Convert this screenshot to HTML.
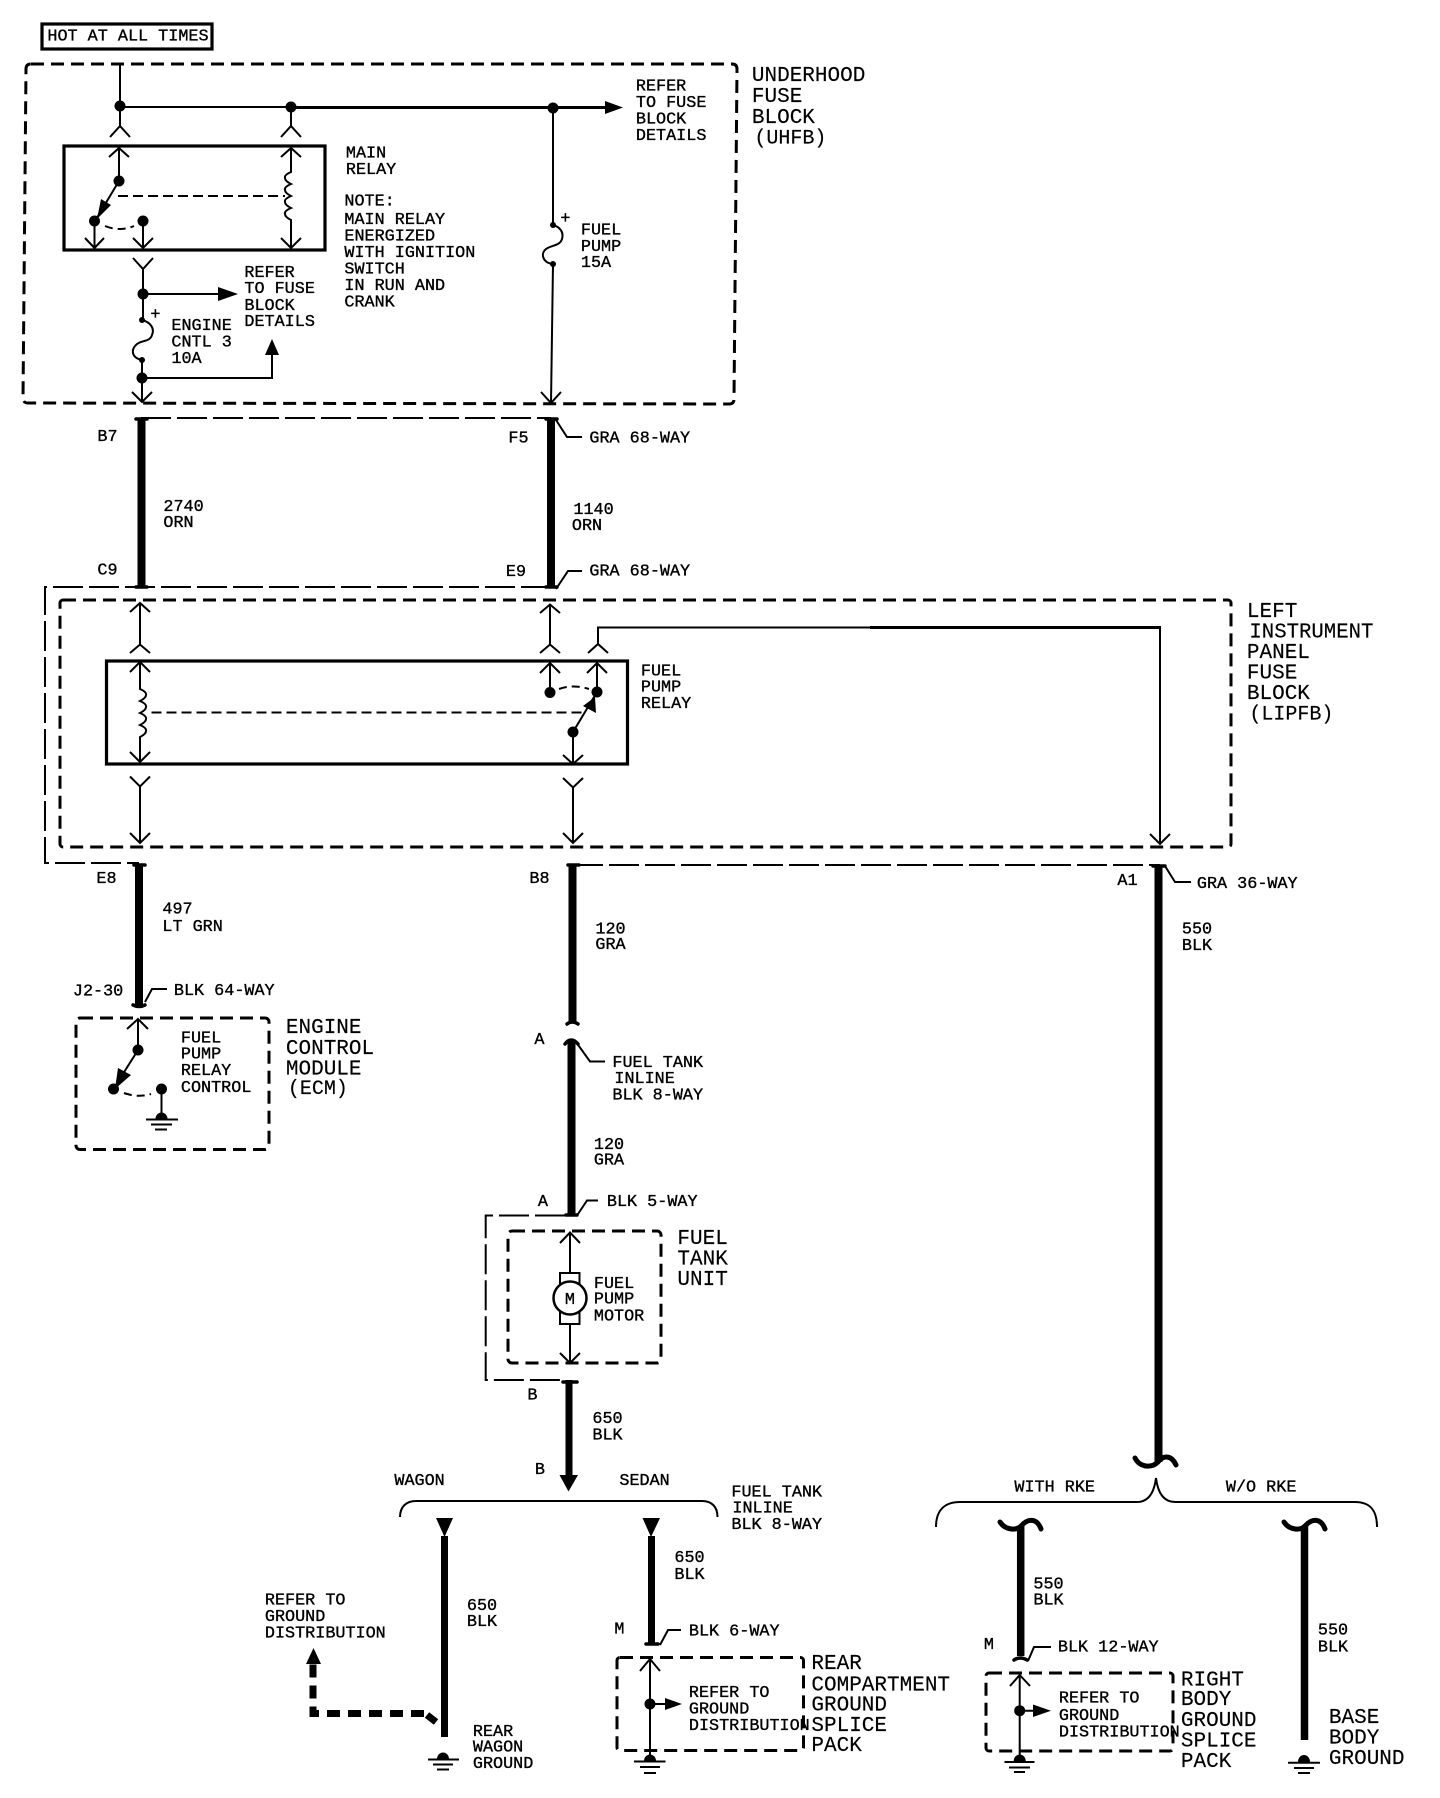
<!DOCTYPE html>
<html><head><meta charset="utf-8"><title>Fuel pump wiring diagram</title>
<style>
html,body{margin:0;padding:0;background:#fff}
svg{display:block}
text{font-family:"Liberation Mono",monospace;fill:#000;stroke:#000;stroke-width:.35px;white-space:pre;transform:translate(-.6px,-1.2px)}
.s{font-size:16.800px}
.b{font-size:21px;stroke-width:.15px}
.p{font-size:20px}
.l{fill:none;stroke:#000;stroke-width:2}
.t{fill:none;stroke:#000;stroke-width:1.8}
.h{fill:none;stroke:#000;stroke-width:3}
.d{fill:none;stroke:#000;stroke-width:3;stroke-dasharray:13 7}
.r{fill:none;stroke:#000;stroke-width:3.2}
.n{fill:none;stroke:#000;stroke-width:2;stroke-dasharray:10 5}
.c{fill:none;stroke:#000;stroke-width:2;stroke-dasharray:30 6}
.w{fill:none;stroke:#000;stroke-width:8}
.f{fill:none;stroke:#000;stroke-width:3.5;stroke-linecap:round}
.g{fill:none;stroke:#000;stroke-width:2}
</style></head>
<body>
<svg xmlns="http://www.w3.org/2000/svg" width="1440" height="1798" viewBox="0 0 1440 1798">
<rect width="1440" height="1798" fill="#fff"/>

<!-- HOT box -->
<rect x="42" y="24" width="170" height="25" class="r"/>
<text class="s" x="48" y="41.500">HOT AT ALL TIMES</text>

<!-- Underhood fuse block -->
<path class="d" d="M31 64H732Q737 64 737 69L734 399Q734 404 729 404L28 403Q23 403 23 398L26 69Q26 64 31 64Z"/>
<path class="l" d="M120 63V107H291"/><path class="h" d="M291 107.500H605"/>
<path class="l" d="M553 108V225M553 264L551 403"/>
<polygon points="605,101 623,107.500 605,114"/>
<circle cx="120" cy="106" r="5.500"/><circle cx="291" cy="107" r="5.500"/><circle cx="553" cy="108" r="5.500"/>
<path class="l" d="M120 106V126M110 137L120 126L130 137M291 107V126M281 137L291 126L301 137"/>
<!-- main relay -->
<rect x="64" y="146" width="261" height="104" class="r"/>
<path class="l" d="M109 157L119 148L129 157M119 148V181M281 157L291 148L301 157"/>
<path class="l" d="M291 148V172q-7 3 -6 6q0 3 6 6q-7 3 -6 6q0 3 6 6q-7 3 -6 6q0 3 6 6q-7 3 -6 6q0 3 6 6V248M281 238L291 248L301 238"/>
<path class="n" d="M118 196H285"/>
<path class="l" d="M119 181L95 221"/>
<polygon points="97,219 101,199 111,205"/>
<circle cx="119" cy="181" r="5.500"/><circle cx="94.500" cy="221" r="5.500"/><circle cx="143" cy="221" r="5.500"/>
<path class="l" stroke-dasharray="8 5" d="M105 226Q120 232 134 226"/>
<path class="l" d="M94.500 221V248M85 238L94.500 248L104 238M143 221V248M133 238L143 248L153 238"/>
<path class="l" d="M133 258L143 269L153 258M143 269V320"/>
<circle cx="143" cy="294" r="5.500"/>
<path class="l" d="M143 294H220"/><polygon points="218,287 238,294 218,301"/>
<text class="s" x="151" y="320">+</text>
<path class="l" d="M142 320C150 322 155 328 152 335C150 342 142 340 137 344C130 350 132 358 142 360V402"/>
<circle cx="142" cy="320" r="3"/><circle cx="142" cy="360" r="3"/><circle cx="142" cy="378" r="5.500"/>
<path class="l" d="M142 378H272V352"/><polygon points="272,339 279,355 265,355"/>
<path class="l" d="M132 392L142 402L152 392"/>
<text class="s" x="561" y="224">+</text>
<path class="l" d="M553 225C560 227 564 232 562 239C560 246 551 245 546 249C540 254 543 263 553 264"/>
<circle cx="553" cy="225" r="3"/><circle cx="553" cy="264" r="3"/>
<path class="l" d="M541 392L551 403L561 392"/>
<text class="s" x="636.500" y="91.500">REFER</text>
<text class="s" x="636.500" y="108">TO FUSE</text>
<text class="s" x="636.500" y="124.500">BLOCK</text>
<text class="s" x="636.500" y="141">DETAILS</text>
<text class="s" x="346.500" y="158.500">MAIN</text>
<text class="s" x="346.500" y="175">RELAY</text>
<text class="s" x="345" y="206.500">NOTE:</text>
<text class="s" x="345" y="225">MAIN RELAY</text>
<text class="s" x="345" y="241.500">ENERGIZED</text>
<text class="s" x="345" y="258">WITH IGNITION</text>
<text class="s" x="345" y="274.500">SWITCH</text>
<text class="s" x="345" y="291">IN RUN AND</text>
<text class="s" x="345" y="307.500">CRANK</text>
<text class="s" x="581.500" y="235.500">FUEL</text>
<text class="s" x="581.500" y="252">PUMP</text>
<text class="s" x="581.500" y="268">15A</text>
<text class="s" x="172" y="331">ENGINE</text>
<text class="s" x="172" y="347.500">CNTL 3</text>
<text class="s" x="172" y="364">10A</text>
<text class="s" x="245" y="278">REFER</text>
<text class="s" x="245" y="294">TO FUSE</text>
<text class="s" x="245" y="311">BLOCK</text>
<text class="s" x="245" y="327">DETAILS</text>
<text class="b" x="752.500" y="82">UNDERHOOD</text>
<text class="b" x="752.500" y="103">FUSE</text>
<text class="b" x="752.500" y="124">BLOCK</text>
<text class="b p" x="755" y="144.500">(UHFB)</text>

<!-- Harness 1 -->
<path class="c" d="M141 418H551"/>
<path class="w" d="M141.500 418V587M551 418V587"/>
<path class="f" d="M136 419H147M546 419H557M136 587H147M546 587H557"/>
<path class="l" d="M556 420L567 437H582M556 589L568 571H582"/>
<text class="s" x="98" y="442">B7</text>
<text class="s" x="509" y="443.500">F5</text>
<text class="s" x="590" y="443.500">GRA 68-WAY</text>
<text class="s" x="164" y="512">2740</text>
<text class="s" x="164" y="528">ORN</text>
<text class="s" x="574" y="515">1140</text>
<text class="s" x="572.500" y="531">ORN</text>
<text class="s" x="98" y="575.500">C9</text>
<text class="s" x="506.500" y="577">E9</text>
<text class="s" x="590" y="576.500">GRA 68-WAY</text>
<path class="c" d="M551 587H45V863H139"/>

<!-- LIPFB -->
<rect x="60" y="600" width="1171" height="247" rx="3" class="d"/>
<path class="l" d="M130 612L140 603L150 612M140 603V645M130 653L140 644.500L150 653"/>
<path class="l" d="M540 613L550 604.500L560 613M550 604.500V645M540 653L550 644.500L560 653"/>
<path class="l" d="M598 644V627.500H870"/><path class="h" d="M870 627.500H1161"/>
<path class="l" d="M1160 627V844M1150 834L1160 844L1170 834M588 653L598 644L608 653"/>
<rect x="106.500" y="661" width="521" height="103" class="r"/>
<path class="l" d="M130 672L140 662L150 672"/>
<path class="l" d="M140 662V689q7 3 6 6q0 3 -6 6q7 3 6 6q0 3 -6 6q7 3 6 6q0 3 -6 6q7 3 6 6q0 3 -6 6V762M130 752L140 762L150 752"/>
<path class="n" d="M151.500 712.500H585"/>
<path class="l" d="M540 673L550 663L560 673M550 663V692M587 673L597 663L607 673M597 663V692"/>
<path class="l" d="M573 732L597 692M573 732V764M563 755L573 764L583 755"/>
<polygon points="595,697 596,713 583,706"/>
<circle cx="550" cy="692.500" r="5.500"/><circle cx="597" cy="692" r="5.500"/><circle cx="573" cy="732" r="5.500"/>
<path class="l" stroke-dasharray="8 5" d="M559 689Q573 684 589 689"/>
<path class="l" d="M130 776.500L140 786.500L150 776.500M140 786.500V843M130 833L140 843L150 833"/>
<path class="l" d="M563 778L573 787.500L583 778M573 787.500V843M563 833L573 843L583 833"/>
<text class="s" x="641.500" y="676.500">FUEL</text>
<text class="s" x="641.500" y="692.500">PUMP</text>
<text class="s" x="641.500" y="709">RELAY</text>
<text class="b" x="1247.500" y="618">LEFT</text>
<text class="b" x="1250" y="638.500" textLength="124" lengthAdjust="spacingAndGlyphs">INSTRUMENT</text>
<text class="b" x="1247.500" y="659">PANEL</text>
<text class="b" x="1247.500" y="679.500">FUSE</text>
<text class="b" x="1247.500" y="700">BLOCK</text>
<text class="b p" x="1250" y="720.500">(LIPFB)</text>

<!-- Harness 2 -->
<path class="c" d="M573 865H1160"/>
<path class="w" d="M139 864V1005M572.500 865V1023M571.500 1041V1214M1158.500 865V1462"/>
<path class="f" d="M134 865H145M568 865H579M1153 866H1165M133 1005Q139 1008 145 1005M567 1024Q572 1020 578 1024M565 1044Q571 1036 578 1044M566 1215H577"/>
<path class="l" d="M145 1002L152 989H167M576 1042L590 1061.500H605M578 1214L587 1200.500H598M1165 866L1175 882H1191"/>
<text class="s" x="97" y="884">E8</text>
<text class="s" x="163" y="914.500">497</text>
<text class="s" x="163" y="932">LT GRN</text>
<text class="s" x="73.500" y="996.500">J2-30</text>
<text class="s" x="174.500" y="996">BLK 64-WAY</text>
<text class="s" x="530" y="884">B8</text>
<text class="s" x="596" y="934.500">120</text>
<text class="s" x="596" y="950">GRA</text>
<text class="s" x="535" y="1045">A</text>
<text class="s" x="613" y="1068">FUEL TANK</text>
<text class="s" x="615" y="1084">INLINE</text>
<text class="s" x="613" y="1100.500">BLK 8-WAY</text>
<text class="s" x="594.500" y="1150">120</text>
<text class="s" x="594.500" y="1165.500">GRA</text>
<text class="s" x="1118" y="886">A1</text>
<text class="s" x="1197.500" y="889">GRA 36-WAY</text>
<text class="s" x="1182.500" y="934.500">550</text>
<text class="s" x="1182.500" y="951">BLK</text>

<!-- ECM -->
<rect x="76" y="1018" width="193" height="131.500" rx="4" class="d"/>
<path class="l" d="M127 1029L138 1019L148 1029M138 1019V1050L113.500 1089"/>
<polygon points="115,1089 118,1068 131,1075"/>
<circle cx="138" cy="1050" r="5.500"/><circle cx="113.500" cy="1089" r="5.500"/><circle cx="161.500" cy="1089" r="5.500"/>
<path class="l" stroke-dasharray="8 5" d="M124 1093Q138 1098 151 1094"/>
<path class="l" d="M161.500 1089V1118"/>
<path d="M155.500 1119a6 6.500 0 0 1 12 0z"/>
<path class="g" d="M146 1119.500H178M151 1124.500H172M155 1129.500H167"/>
<text class="s" x="181.500" y="1043.500">FUEL</text>
<text class="s" x="181.500" y="1059.500">PUMP</text>
<text class="s" x="181.500" y="1076">RELAY</text>
<text class="s" x="181.500" y="1093">CONTROL</text>
<text class="b" x="286.500" y="1034">ENGINE</text>
<text class="b" x="286.500" y="1055">CONTROL</text>
<text class="b" x="286.500" y="1075.500">MODULE</text>
<text class="b p" x="288.500" y="1095">(ECM)</text>

<!-- Fuel tank unit -->
<text class="s" x="538.500" y="1207">A</text>
<text class="s" x="607.500" y="1207">BLK 5-WAY</text>
<path class="c" d="M565 1215.500H485.700V1380H565"/>
<rect x="508" y="1231" width="153" height="132" rx="4" class="d"/>
<path class="l" d="M560 1243L570 1232.500L580 1243M570 1232.500V1273M570 1324V1363M560 1353L570 1363L580 1353"/>
<rect x="560" y="1273" width="19.500" height="51" fill="#fff" stroke="#000" stroke-width="2"/>
<circle cx="570" cy="1298" r="16.500" fill="#fff" stroke="#000" stroke-width="2.500"/>
<text class="s" x="565.500" y="1305">M</text>
<text class="s" x="594.500" y="1289">FUEL</text>
<text class="s" x="594.500" y="1304.500">PUMP</text>
<text class="s" x="594.500" y="1321.500">MOTOR</text>
<text class="b" x="678" y="1245">FUEL</text>
<text class="b" x="678" y="1265.500">TANK</text>
<text class="b" x="678" y="1286">UNIT</text>

<text class="s" x="528" y="1400.500">B</text>
<text class="s" x="593" y="1424">650</text>
<text class="s" x="593" y="1440.500">BLK</text>
<text class="s" x="535.500" y="1475">B</text>
<path class="w" style="stroke-width:7" d="M569 1380V1477"/>
<path class="f" d="M563 1382H577"/>
<polygon points="559.500,1475 578,1475 568.500,1491.500"/>
<text class="s" x="395" y="1486">WAGON</text>
<text class="s" x="620" y="1486">SEDAN</text>
<path class="l" d="M400 1517C400 1507 406 1501 416 1501H702C712 1501 717.500 1507 717.500 1517"/>
<text class="s" x="732" y="1497.500">FUEL TANK</text>
<text class="s" x="733" y="1513.500">INLINE</text>
<text class="s" x="732" y="1530">BLK 8-WAY</text>

<!-- Wagon -->
<polygon points="436,1518 453,1518 444.500,1537"/>
<path class="w" style="stroke-width:7" d="M444.500 1536V1737"/>
<text class="s" x="467.500" y="1611">650</text>
<text class="s" x="467.500" y="1627">BLK</text>
<text class="s" x="265.500" y="1605.500">REFER TO</text>
<text class="s" x="265.500" y="1622">GROUND</text>
<text class="s" x="265.500" y="1638.500">DISTRIBUTION</text>
<path d="M424 1713.500H313V1663" fill="none" stroke="#000" stroke-width="7" stroke-dasharray="13 8"/>
<path d="M427 1715L436 1722" fill="none" stroke="#000" stroke-width="7"/>
<polygon points="313.500,1648 321,1664 306,1664"/>
<path d="M437 1759a6 6.500 0 0 1 12 0z"/>
<path class="g" d="M428 1759.500H459M433 1764.500H453M437 1769.500H449"/>
<text class="s" x="473.500" y="1737">REAR</text>
<text class="s" x="473.500" y="1752.500">WAGON</text>
<text class="s" x="473.500" y="1769">GROUND</text>

<!-- Sedan -->
<polygon points="642.500,1518 660,1518 651,1537"/>
<path class="w" style="stroke-width:7" d="M651.500 1536V1643"/>
<path class="f" d="M646 1644H658"/>
<path class="l" d="M660 1645L668 1630H681"/>
<text class="s" x="675" y="1563">650</text>
<text class="s" x="675" y="1580">BLK</text>
<text class="s" x="615" y="1634.500">M</text>
<text class="s" x="689.500" y="1636.500">BLK 6-WAY</text>
<rect x="617" y="1657.500" width="186.500" height="93" rx="3" class="d"/>
<path class="l" d="M640 1671L650 1659L660 1671M650 1659V1755M650 1704H667"/>
<circle cx="650" cy="1704" r="5.500"/>
<polygon points="665,1698 682,1704 665,1710"/>
<path d="M644 1761a6 6.500 0 0 1 12 0z"/>
<path class="g" d="M634 1761.500H665.500M640 1767H660M644 1773H656"/>
<text class="s" x="689.500" y="1698">REFER TO</text>
<text class="s" x="689.500" y="1714.500">GROUND</text>
<text class="s" x="689.500" y="1731">DISTRIBUTION</text>
<text class="b" x="812" y="1670">REAR</text>
<text class="b" x="812" y="1691.500">COMPARTMENT</text>
<text class="b" x="812" y="1711.500">GROUND</text>
<text class="b" x="812" y="1732">SPLICE</text>
<text class="b" x="812" y="1752">PACK</text>

<!-- RKE -->
<path fill="none" stroke="#000" stroke-width="5" stroke-linecap="round" d="M1135 1458C1140 1468 1152 1468 1158 1462C1164 1454 1172 1456 1176 1465"/>
<path class="l" d="M936 1527C936 1510 945 1502 960 1502H1137Q1153 1502 1156 1478Q1159 1502 1175 1502H1355C1370 1502 1377 1510 1377 1527"/>
<text class="s" x="1015" y="1492.500">WITH RKE</text>
<text class="s" x="1226.500" y="1492.500">W/O RKE</text>
<path class="w" style="stroke-width:7.500" d="M1020.700 1526V1656M1304.500 1526V1740"/>
<path fill="none" stroke="#000" stroke-width="5" stroke-linecap="round" d="M1000 1522C1005 1530 1016 1531 1021 1526C1028 1518 1037 1518 1041 1529M1284 1522C1289 1530 1300 1531 1305 1526C1312 1518 1321 1518 1325 1529"/>
<path class="f" d="M1014 1660Q1020 1656 1027 1660"/>
<path class="l" d="M1028 1661L1034 1647H1051"/>
<text class="s" x="1034" y="1589.500">550</text>
<text class="s" x="1034" y="1605.500">BLK</text>
<text class="s" x="984.500" y="1650">M</text>
<text class="s" x="1058.500" y="1652.500">BLK 12-WAY</text>
<rect x="986" y="1673" width="187" height="78" rx="3" class="d"/>
<path class="l" d="M1010 1686L1019.700 1675L1030 1686M1019.700 1675V1757M1019.700 1710.700H1035"/>
<circle cx="1019.700" cy="1710.700" r="5.500"/>
<polygon points="1033,1704.500 1051,1710.700 1033,1717"/>
<path d="M1013.700 1761a6 6.500 0 0 1 12 0z"/>
<path class="g" d="M1004.500 1762H1034.500M1009 1767.500H1030M1014 1772H1025"/>
<text class="s" x="1059.500" y="1703.500">REFER TO</text>
<text class="s" x="1059.500" y="1721">GROUND</text>
<text class="s" x="1059.500" y="1737.500">DISTRIBUTION</text>
<text class="b" x="1181.500" y="1686.500">RIGHT</text>
<text class="b" x="1181.500" y="1706">BODY</text>
<text class="b" x="1181.500" y="1727">GROUND</text>
<text class="b" x="1181.500" y="1747.500">SPLICE</text>
<text class="b" x="1181.500" y="1768">PACK</text>
<text class="s" x="1318.500" y="1635.500">550</text>
<text class="s" x="1318.500" y="1652.500">BLK</text>
<path d="M1298 1762a6 7 0 0 1 12 0z"/>
<path class="g" d="M1288 1762.700H1320M1294 1768H1314M1298 1773H1310"/>
<text class="b" x="1329.500" y="1724">BASE</text>
<text class="b" x="1329.500" y="1744.500">BODY</text>
<text class="b" x="1329.500" y="1765">GROUND</text>
</svg>
</body></html>
